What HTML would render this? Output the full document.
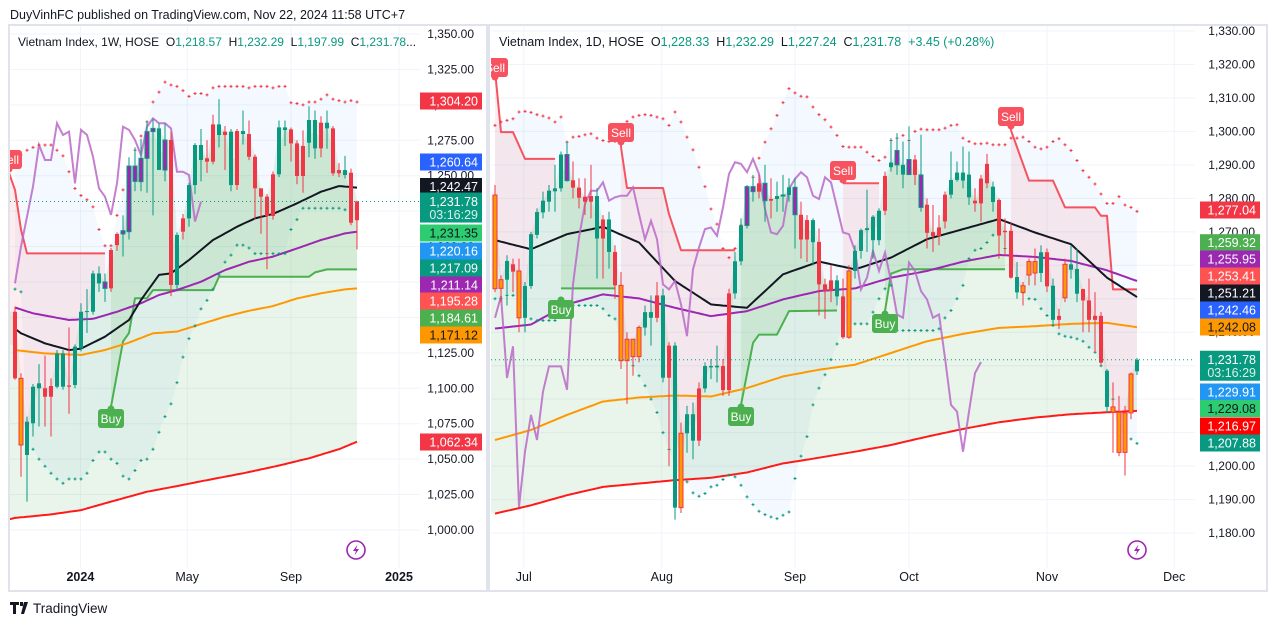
<!DOCTYPE html>
<html><head><meta charset="utf-8"><style>
html,body{margin:0;padding:0;background:#fff;}
body{width:1276px;height:626px;overflow:hidden;font-family:"Liberation Sans",sans-serif;}
svg text{font-family:"Liberation Sans",sans-serif;}
</style></head><body>
<svg id="root" xmlns="http://www.w3.org/2000/svg" width="1276" height="626" viewBox="0 0 1276 626">
<defs>
<clipPath id="clipL"><rect x="10" y="26" width="410" height="536"/></clipPath>
<clipPath id="clipR"><rect x="491" y="26" width="704" height="536"/></clipPath>
</defs>
<rect x="0" y="0" width="1276" height="626" fill="#ffffff"/>
<text x="10" y="19" font-size="12.5" fill="#131722">DuyVinhFC published on TradingView.com, Nov 22, 2024 11:58 UTC+7</text>
<rect x="9" y="25" width="478" height="566" fill="none" stroke="#e0e3eb" stroke-width="2"/>
<rect x="489" y="25" width="778" height="566" fill="none" stroke="#e0e3eb" stroke-width="2"/>
<g id="gL"></g>
<g id="gR"></g>
<g id="gA"></g>
<text x="18" y="46" font-size="12" fill="#131722" xml:space="preserve">Vietnam Index, 1W, HOSE  O<tspan fill="#089981">1,218.57</tspan>  H<tspan fill="#089981">1,232.29</tspan>  L<tspan fill="#089981">1,197.99</tspan>  C<tspan fill="#089981">1,231.78</tspan>...</text>
<text x="499" y="46" font-size="12.5" fill="#131722" xml:space="preserve">Vietnam Index, 1D, HOSE  O<tspan fill="#089981">1,228.33</tspan>  H<tspan fill="#089981">1,232.29</tspan>  L<tspan fill="#089981">1,227.24</tspan>  C<tspan fill="#089981">1,231.78</tspan>  <tspan fill="#089981">+3.45 (+0.28%)</tspan></text>
<g>
<path d="M10 602h9v3h-3v9h-3v-9h-3z M20 602h3v4h-3z M24 602h4l-4 12h-3z" fill="#131722"/>
<text x="33" y="613" font-size="13.5" fill="#131722">TradingView</text>
</g>
</svg>
<script>
// ===== Weekly data =====
const openL=[1154,1107,1052.9,1075.3,1103.5,1100,1094,1101.1,1124.6,1101.1,1102.3,1128.2,1154,1154,1181,1175,1170.5,1201,1208.9,1210.5,1246,1245.8,1262.3,1281.1,1283.4,1254,1275.2,1172.9,1210.5,1219.9,1243.4,1271.7,1262.3,1259.9,1286.2,1278.7,1281.1,1243.4,1281.5,1279.4,1263.4,1241.1,1235.2,1221.6,1251,1284.1,1282.7,1272.8,1249.8,1273.3,1289.3,1269.3,1287.4,1283.4,1251.7,1254,1252.1,1218.57];
const closeL=[1107,1060,1076.4,1101.1,1100,1094,1101.6,1124.6,1101.1,1102,1129.4,1154,1154.5,1181,1174,1170.5,1197.6,1208.9,1211.2,1256.8,1256.8,1262.3,1281.1,1283.4,1254,1275.2,1172.9,1208.2,1219.9,1243.4,1271.7,1261.1,1259.9,1286.2,1278.7,1281.1,1243.4,1281.5,1279.4,1263.4,1241.1,1235.2,1221.6,1251,1284.1,1282.2,1272.8,1249.8,1271,1289.3,1269.3,1287.4,1283.4,1251.7,1254,1250.5,1216.8,1231.78];
const highL=[1157.6,1110.5,1080,1103,1117,1123,1107,1127,1127,1143,1131,1160,1170,1183,1186,1181,1199,1210,1222,1263,1270,1276,1289,1290,1287,1287,1281,1210,1223,1245,1273,1283,1275,1293,1304,1285,1283,1283,1296,1289,1265,1240,1237,1253,1289,1289,1284,1275,1282,1299,1296,1292,1296,1285,1259,1264,1255,1232.29];
const lowL=[1106,1037.6,1020,1066,1073,1073,1066,1100,1099,1082,1100,1126,1139,1152,1168,1161,1168,1197,1193,1205,1239,1239,1238,1222,1254,1246,1165,1170,1205,1214,1237,1246,1252,1258,1270,1254,1239,1240,1272,1261,1219,1209,1184,1219,1249,1271,1260,1244,1238,1263,1262,1263,1269,1250,1249,1248,1215,1197.99];
const styleL="rogggrrggrgggggprrppppppgprgrgggrrgrgrgrrrrrggrrrggrgrrgrrg".split("");
const blackIdxL=[0,1,5,9,11,15,19,21,24,26,29,33,37,40,43,47,51,54,57];
const blackValL=[1142,1138.8,1131.7,1127,1128,1136.4,1148.2,1162.3,1180,1181.1,1190.5,1204.6,1214,1219.9,1223,1230.5,1238.7,1242.7,1241.6];
const purpleIdxL=[0,3,9,13,17,21,24,27,31,35,39,43,47,51,55,57];
const purpleValL=[1157,1152.9,1148.2,1149,1154,1160,1165.8,1169.3,1175.2,1183.4,1189.3,1192.9,1198.7,1204.6,1209.3,1210.5];
const orangeIdxL=[0,5,11,15,19,23,27,31,35,39,43,47,51,55,57];
const orangeValL=[1127,1124.6,1123.5,1127,1132.2,1138.8,1140,1145.3,1150.5,1154.7,1158,1163.4,1167,1169.8,1170.5];
const redIdxL=[-1,0,6,11,16,22,27,33,38,44,49,54,57];
const redValL=[1007.5,1008.5,1011,1014,1020,1027,1031,1036,1040,1045.5,1050.6,1057,1062.3];
const stRedIdxL=[-1,0,1,2,15];
const stRedValL=[1252,1240,1212,1195.2,1195.2];
const stGrnIdxL=[16,18,19,20,22,23,33,34,49,50,52,57];
const stGrnValL=[1087,1133,1139,1163.5,1163.5,1169.3,1169.3,1178.7,1178.7,1181.8,1183.9,1183.9];
const oscL=[1174,1200,1221,1242.3,1271.7,1261.1,1261.1,1287,1278.7,1281.1,1244.6,1282.3,1278.7,1263.4,1241.1,1235.2,1222.3,1244.6,1284.6,1282.3,1275.2,1264.6,1284.6,1290.5,1287,1287,1283.4,1252.8,1252.8,1250.5,1217.6,1231.7];
const psarTopL=[1265,1264.6,1268,1270,1271.7,1271.7,1271.7,1268,1264,1252.8,1241,1236,1233,1228,1212,1200.6,1200.6,1222,1240,1255,1268,1278,1288,1302,1309,1316,1314,1313,1310,1306,1308,1308,1307,1312,1313,1313,1313,1313,1313,1312,1313,1313,1313,1312,1313,1313,1301.5,1301,1300,1302,1302,1304,1307,1304,1303,1302,1303,1302];
const psarBotL=[1170,1168,1060,1057,1050,1045,1040,1036,1033,1036,1036,1036,1040,1049,1055,1055,1050,1047,1038,1036,1042,1049,1050,1057,1069,1080,1089,1104,1122,1135,1144,1156,1162,1170,1180,1189,1194,1201,1201,1199,1195,1195,1195,1195,1195,1195,1212,1219,1227,1227,1227,1227,1227,1227,1227,1226,1226,1226];
const ticksL=[1000,1025,1050,1075,1100,1125,1150,1175,1200,1225,1250,1275,1300,1325,1350];
const timeLabelsL=["2024","May","Sep","2025"];
const timeWeeksL=[10.9,28.7,46,64];

// ===== Daily data =====
const openR=[1281,1255.7,1255.7,1260.3,1258.3,1244.3,1253.8,1269.1,1275.8,1279,1282.1,1283,1293.1,1285.4,1283.2,1280.5,1279,1280.7,1268,1273.7,1264,1254,1237.9,1237.9,1232.7,1241.4,1246,1244.3,1251,1226.4,1236,1187.6,1209.8,1215.5,1207.6,1223.2,1229.5,1230,1229.9,1222.7,1251.6,1261.2,1271.9,1283.5,1282,1284.5,1279.3,1279.8,1280.8,1281,1283.3,1275.1,1267.7,1273.5,1267,1254.3,1252.3,1255.5,1250.7,1238.5,1258.3,1264.3,1270.5,1274.5,1267.5,1276.3,1289.3,1290,1290,1287.1,1291.6,1287,1278.1,1269.9,1268.7,1273.1,1281.1,1285.5,1287.7,1287.1,1279.3,1278.5,1290.3,1283.5,1279.5,1269.9,1270.3,1256.5,1253.9,1257.1,1261.1,1257.7,1263.9,1253.9,1243.7,1250.3,1260.3,1258.9,1252.9,1249.5,1243.7,1244.9,1228.5,1217.7,1216.1,1204.1,1215.9,1228.33];
const closeR=[1253,1253.1,1261.3,1258.1,1244.3,1253.8,1269.3,1275.9,1279.3,1282.3,1283,1293.1,1285.3,1283.2,1280.2,1279,1280.7,1268,1273.7,1264,1254,1231.5,1231.5,1232.7,1241.4,1246,1244.3,1251,1226.4,1236,1187.6,1209.8,1215.5,1207.6,1223.2,1229.9,1229.9,1229.5,1222.7,1251.6,1261.2,1271.9,1283.5,1282,1284.5,1279.3,1279.8,1280.7,1281,1283.3,1275.1,1267.7,1273.5,1266.9,1254.3,1252.3,1255.5,1250.7,1238.5,1258.3,1264.3,1270.5,1271.1,1267.5,1276.3,1286.7,1290.7,1294.3,1287.1,1291.6,1287,1277.3,1269.7,1268.7,1271.3,1281.1,1285.5,1287.7,1285.3,1280.3,1278.5,1285.9,1284.5,1278.9,1268.9,1270.3,1256.3,1251.9,1251.9,1261.1,1257.7,1263.9,1253.7,1243.7,1244.9,1260.3,1258.7,1251.5,1249.5,1243.7,1244.9,1230.9,1217.7,1216.1,1204.1,1215.9,1227.5,1231.78];
const highR=[1284,1257,1263,1262,1262,1255,1270,1277,1282,1284,1290,1294,1297,1291,1286,1286,1290,1283,1275,1276,1266,1258,1240,1238,1242,1248,1251,1255,1253,1237,1237,1213,1218,1219,1225,1231,1232,1236,1232,1253,1264,1274,1284,1287,1287,1290,1286,1285,1287,1286,1286,1279,1275,1274,1271,1256,1260,1257,1256,1260,1266,1271,1282.6,1275,1277,1288,1298,1299.5,1297,1301.5,1293,1299,1280,1278,1275,1282,1294,1291,1295.5,1294,1283,1287,1293.3,1285,1280,1274,1273,1261,1255,1262,1265,1266,1265,1256,1247,1262,1266,1265,1253,1256,1252,1246,1229,1225,1221,1218,1228,1232.29];
const lowR=[1252,1249,1248,1252,1240,1240,1253,1268,1274,1276,1276,1282,1285,1280,1277,1275,1274,1256,1256,1259,1250,1229,1218.6,1227,1231,1239,1236,1243,1225,1200,1184,1186,1204,1202,1206,1222,1226,1225,1221,1221,1250,1260,1271,1279,1280,1273,1274,1276,1276,1279,1265,1262,1261,1260,1245,1244,1249,1248,1238,1238,1256,1262,1264,1262,1266,1275,1288,1287,1283,1287,1284,1276,1265,1264,1266,1271,1280,1285,1283,1278,1276,1273,1283,1276,1262,1263,1256,1250,1248,1254,1254,1255,1252,1242,1241,1249,1256,1249,1240,1240,1234,1230,1216,1204,1203,1197.2,1214,1227.24];
const styleR="oogrogggggggprrrrgrgroooogg rgrgoggrgggrrggpprprgpgprrgrrrgrogggggrgpgprprrrrggggrrrgrrrgooogrgrogg rrrrgoooo ggg".replace(/ /g,"").split("");
const maIdxR=[0,6,12,18,24,30,36,42,48,54,60,66,72,78,84,90,96,102,107];
const blackValR=[1267.5,1264.8,1269.3,1271.5,1266.8,1255.3,1248.3,1247.3,1257.3,1261.1,1258.8,1262.3,1267.8,1270.8,1273.8,1269.8,1266.3,1256.3,1250.5];
const purpleValR=[1241.1,1242.3,1248.3,1251.3,1250.1,1247.3,1244.8,1246.3,1249.8,1252.3,1253.1,1256.3,1258.3,1261.1,1263.1,1262.5,1261.3,1258.5,1255.3];
const orangeValR=[1207.8,1210.8,1215.3,1219.3,1220.5,1221.1,1220.8,1223.3,1226.8,1228.8,1230.3,1233.8,1237.3,1239.5,1241.3,1241.8,1242.5,1242.8,1241.5];
const redValR=[1185.8,1188.3,1191.3,1193.8,1194.8,1195.8,1196.5,1198.1,1200.8,1202.5,1204.3,1206.3,1208.8,1211.1,1213.1,1214.5,1215.5,1216.1,1216.5];
const stRedIdxR=[[0,1,3,5,10],[21,22,28,29,31,40],[58,64],[86,88,89,93,95,100,101,102,103,107]];
const stRedValR=[[1318.3,1299.8,1299.8,1291.8,1291.8],[1295.3,1283.1,1283.1,1275.3,1264.5,1264.5],[1284.5,1284.5],[1300.3,1290.3,1285.3,1285.3,1277.3,1277.3,1274.8,1274.8,1252.8,1252.8]];
const stGrnIdxR=[[11,20],[41,43,44,47,49,57],[65,66,68,85]];
const stGrnValR=[[1253.1,1253.1],[1218.3,1236.8,1239.3,1239.3,1246.3,1246.5],[1246.3,1257.5,1258.8,1258.8]];
const oscR=[1244.3,1250.8,1226.3,1235.8,1187.8,1204.3,1215.3,1207.8,1222.3,1229.8,1229.8,1229.8,1222.8,1254.3,1268.3,1278.3,1282.3,1282.3,1284.8,1279.3,1280.3,1280.8,1280.8,1283.3,1275.3,1267.8,1273.3,1267.8,1254.3,1252.8,1255.3,1248.3,1238.8,1258.8,1265.3,1270.8,1271.3,1268.8,1277.3,1287.3,1290.8,1290.3,1287.8,1291.8,1287.3,1276.8,1269.8,1269.3,1271.8,1282.8,1285.8,1287.8,1286.3,1280.8,1279.8,1286.3,1284.8,1277.3,1269.8,1269.3,1264.3,1252.8,1256.3,1264.3,1258.3,1263.8,1255.3,1245.3,1244.3,1260.8,1258.3,1252.3,1249.8,1244.3,1245.3,1232.3,1218.3,1216.3,1204.3,1216.3,1227.8,1231.1];
const psarTopR=[1301.8,1302.8,1303.3,1303.8,1305.8,1306,1305.7,1305,1304.6,1304,1302.8,1304.3,1296.8,1298.3,1298.5,1299,1299.3,1298,1297.3,1297,1297,1297,1303,1304.3,1304.8,1305,1304.8,1304.3,1303.8,1301.8,1305.8,1302.8,1298.3,1294.5,1289.3,1283.5,1276.8,1272.3,1265,1262.3,1265,1272,1280,1286.3,1292,1296.8,1300.8,1304.8,1308.6,1312.8,1311.5,1310.5,1310.3,1307.3,1305,1303.5,1301.3,1298.8,1295.5,1295.3,1295.3,1295.3,1293.8,1292.5,1291.3,1292.3,1297.3,1298,1298.8,1297.3,1300,1300.7,1300.5,1300.5,1300.5,1301,1301.8,1302,1298,1297,1296.3,1296.3,1296.5,1296,1296,1296,1298,1298,1298.3,1297,1295.3,1294.8,1295.3,1297,1297.8,1296,1294.3,1291.3,1288.3,1286.3,1284.3,1281.3,1278.5,1278.5,1280.5,1278,1277.3,1276.1];
const psarBotR=[1250,1250,1251,1251,1250,1245,1244,1243.5,1243.5,1243.5,1243.5,1247,1248,1248,1248,1248,1248,1248,1247,1245,1244,1237,1232,1230,1227,1224,1220,1216,1210,1205,1200,1197,1195.3,1192,1191,1191.8,1193.8,1194.3,1196,1197.3,1196.8,1194.3,1190.8,1188.5,1186.5,1185.5,1184.8,1184.3,1185.3,1186.3,1196.3,1203,1208.8,1218.3,1223.3,1227.3,1231.8,1236.5,1242.5,1242.5,1242.5,1242.5,1242.5,1246,1250,1253,1254,1240.5,1240.5,1240.5,1240.5,1240.5,1240.5,1240.5,1241,1244.3,1246.5,1250,1254,1262,1264.5,1265,1266.8,1269,1270,1265,1260,1255,1251.8,1250,1249.8,1247,1245,1242,1239.5,1238.8,1238.5,1238,1237.3,1235.5,1234,1230,1225,1220,1215,1212,1208.1,1206.8];
const ticksR=[1180,1190,1200,1210,1220,1230,1240,1250,1260,1270,1280,1290,1300,1310,1320,1330];
const timeLabelsR=["Jul","Aug","Sep","Oct","Nov","Dec"];
const timeDaysR=[4.8,27.8,50,69,92,113.2];

const tagTextL=["1,304.20","1,260.64","1,242.47","1,231.35","1,220.16","1,217.09","1,211.14","1,195.28","1,184.61","1,171.12","1,062.34"];
const tagColL=["#f23645","#2962ff","#131722","#2ecc71","#2196f3","#089981","#9c27b0","#ff5252","#4caf50","#ff9800","#f23645"];
const tagYL=[101,162,186.5,233,251,268,285,301,318,335,442];
const tagTextR=["1,277.04","1,259.32","1,255.95","1,253.41","1,251.21","1,242.46","1,242.08","1,229.91","1,229.08","1,216.97","1,207.88"];
const tagColR=["#f23645","#4caf50","#9c27b0","#ff5252","#131722","#2962ff","#ff9800","#2196f3","#2ecc71","#ff0000","#089981"];
const tagYR=[210,242.7,259,276,293,310,327,392,408.5,426,443];

// ===== scales =====
const xL=i=>15+6*i, yL=p=>34+(1350-p)*1.4171;
const xR=i=>495+6*i, yR=p=>31+(1330-p)*3.347;
const NS="http://www.w3.org/2000/svg";
function mk(tag,attrs,parent){const e=document.createElementNS(NS,tag);for(const k in attrs)e.setAttribute(k,attrs[k]);parent.appendChild(e);return e;}
function interp(ix,vals,i){if(i<=ix[0])return vals[0];for(let k=1;k<ix.length;k++){if(i<=ix[k]){const t=(i-ix[k-1])/(ix[k]-ix[k-1]);return vals[k-1]+t*(vals[k]-vals[k-1]);}}return vals[vals.length-1];}
function pathFrom(pts){return pts.map((p,k)=>(k?"L":"M")+p[0].toFixed(1)+" "+p[1].toFixed(1)).join(" ");}

function buildChart(g,cfg){
  const root=mk("g",{"clip-path":cfg.clip},g);
  const grid=mk("g",{},g);
  
  
  cfg.ticks.forEach(t=>{const y=cfg.y(t);mk("line",{x1:cfg.x0,x2:cfg.x1,y1:y,y2:y,stroke:"#f0f3fa","stroke-width":1},grid);});
  cfg.timePos.forEach(i=>{const x=cfg.x(i);mk("line",{x1:x,x2:x,y1:26,y2:568,stroke:"#f0f3fa","stroke-width":1},grid);});
  g.insertBefore(grid,root);
  const n=cfg.close.length;
  const top=[],bot=[];
  for(let i=0;i<n;i++){top.push([cfg.x(i),cfg.y(cfg.pTop[i])]);bot.push([cfg.x(i),cfg.y(cfg.pBot[i])]);}
  const cloud=mk("path",{d:pathFrom(top.concat(bot.reverse()))+"Z",fill:"rgba(33,150,243,0.055)"},root);
  
  
  const up=[],dn=[];
  for(let i=0;i<n;i++){up.push([cfg.x(i),cfg.y(Math.max(cfg.open[i],cfg.close[i]))]);dn.push([cfg.x(i),cfg.y(interp(cfg.redIdx,cfg.redVal,i))]);}
  up.unshift([cfg.x(-1),up[0][1]]);dn.unshift([cfg.x(-1),cfg.y(interp(cfg.redIdx,cfg.redVal,-1))]);
  const zone=mk("path",{d:pathFrom(up.concat(dn.reverse()))+"Z",fill:"rgba(76,175,80,0.12)"},root);
  
  
  function stSeg(ix,vals,col,fillCol,nm){
    const a=ix[0],b=ix[ix.length-1];const line=[],cl=[];
    for(let i=a;i<=b;i++){line.push([cfg.x(i),cfg.y(interp(ix,vals,i))]);const ci=Math.max(0,Math.min(n-1,i));cl.push([cfg.x(i),cfg.y((cfg.open[ci]+cfg.close[ci])/2)]);}
    const f=mk("path",{d:pathFrom(line.concat(cl.slice().reverse()))+"Z",fill:fillCol},root);
    
    
    const pts=ix.map((i,k)=>[cfg.x(i),cfg.y(vals[k])]);
    const l=mk("path",{d:pathFrom(pts),fill:"none",stroke:col,"stroke-width":2,"stroke-linejoin":"round"},root);
    
    
  }
  cfg.stRed.forEach(s=>stSeg(s[0],s[1],"#f7525f","rgba(242,54,69,0.09)","supertrend-down"));
  cfg.stGrn.forEach(s=>stSeg(s[0],s[1],"#4caf50","rgba(76,175,80,0.13)","supertrend-up"));
  function ma(ix,vals,col,w,nm){const pts=[];const a=ix[0],b=ix[ix.length-1];for(let i=a;i<=b;i+=0.5)pts.push([cfg.x(i),cfg.y(interp(ix,vals,i))]);
    const l=mk("path",{d:pathFrom(pts),fill:"none",stroke:col,"stroke-width":w,"stroke-linejoin":"round"},root);
    
    }
  ma(cfg.redIdx,cfg.redVal,"#ff1a1a",2,"ma-200-line");
  ma(cfg.orIdx,cfg.orVal,"#ff9800",2,"ma-100-line");
  ma(cfg.puIdx,cfg.puVal,"#9c27b0",2,"ma-50-line");
  ma(cfg.blIdx,cfg.blVal,"#131722",2,"ma-20-line");
  const op=cfg.osc.map((v,i)=>[cfg.x(i),cfg.y(v)]);
  const osl=mk("path",{d:pathFrom(op),fill:"none",stroke:"#ba68c8","stroke-width":2,opacity:0.85},root);
  
  
  const dots=mk("g",{},root);
  
  
  for(let i=0;i<n;i++){
    [[cfg.pTop[i],"#f23645"],[cfg.pBot[i],"#089981"]].forEach(([v,c])=>{const x=cfg.x(i),y=cfg.y(v);
      mk("path",{d:`M${x-1.5} ${y}h3M${x} ${y-1.5}v3`,stroke:c,"stroke-width":1},dots);});
  }
  const cg=mk("g",{},root);
  
  
  for(let i=0;i<n;i++){
    const s=cfg.style[i]||(cfg.close[i]>=cfg.open[i]?"g":"r");
    const fill={g:"#089981",r:"#f23645",o:"#ff9800",p:"#9c27b0"}[s];
    const stroke={g:"#089981",r:"#f23645",o:"#f23645",p:"#089981"}[s];
    const x=cfg.x(i);
    const c=mk("g",{},cg);
    
    
    mk("line",{x1:x,x2:x,y1:cfg.y(cfg.high[i]),y2:cfg.y(cfg.low[i]),stroke:stroke,"stroke-width":1},c);
    const y1=cfg.y(Math.max(cfg.open[i],cfg.close[i])),y2=cfg.y(Math.min(cfg.open[i],cfg.close[i]));
    mk("rect",{x:x-2,y:y1,width:4,height:Math.max(1,y2-y1),fill:fill,stroke:stroke,"stroke-width":(s==="o"||s==="p")?1:0},c);
  }
  const lp=cfg.y(cfg.close[n-1]);
  const dl=mk("line",{x1:cfg.x0,x2:cfg.x1,y1:lp,y2:lp,stroke:"#089981","stroke-width":1,"stroke-dasharray":"1 3"},g);
  
  
  return root;
}
function signal(root,x,stemY,boxY,text,col){
  const g=mk("g",{},root);
  
  
  const w=26,h=19;
  mk("line",{x1:x,x2:x,y1:stemY,y2:boxY<stemY?boxY+h:boxY,stroke:col,"stroke-width":2},g);
  mk("circle",{cx:x,cy:boxY<stemY?boxY+h:boxY,r:3.5,fill:col},g);
  mk("rect",{x:x-w/2,y:boxY,width:w,height:h,rx:3,fill:col},g);
  const t=mk("text",{x:x,y:boxY+14,"font-size":12,fill:"#fff","text-anchor":"middle"},g);t.textContent=text;
}
const gL=document.getElementById("gL");
const rootL=buildChart(gL,{clip:"url(#clipL)",x:xL,y:yL,x0:10,x1:420,ticks:ticksL,timePos:timeWeeksL,
 open:openL,close:closeL,high:highL,low:lowL,style:styleL,pTop:psarTopL,pBot:psarBotL,
 redIdx:redIdxL,redVal:redValL,orIdx:orangeIdxL,orVal:orangeValL,puIdx:purpleIdxL,puVal:purpleValL,blIdx:blackIdxL,blVal:blackValL,
 stRed:[[stRedIdxL,stRedValL]],stGrn:[[stGrnIdxL,stGrnValL]],osc:oscL});
signal(rootL,xL(16),yL(1088),409,"Buy","#4caf50");
signal(rootL,xL(-1),yL(1262),150,"Sell","#f7525f");
const gR=document.getElementById("gR");
const rootR=buildChart(gR,{clip:"url(#clipR)",x:xR,y:yR,x0:491,x1:1195,ticks:ticksR,timePos:timeDaysR,
 open:openR,close:closeR,high:highR,low:lowR,style:styleR,pTop:psarTopR,pBot:psarBotR,
 redIdx:maIdxR,redVal:redValR,orIdx:maIdxR,orVal:orangeValR,puIdx:maIdxR,puVal:purpleValR,blIdx:maIdxR,blVal:blackValR,
 stRed:stRedIdxR.map((a,k)=>[a,stRedValR[k]]),stGrn:stGrnIdxR.map((a,k)=>[a,stGrnValR[k]]),osc:oscR});
signal(rootR,xR(0),yR(1318.3),58,"Sell","#f7525f");
signal(rootR,xR(21),yR(1295.3),123,"Sell","#f7525f");
signal(rootR,xR(58),yR(1284.5),161,"Sell","#f7525f");
signal(rootR,xR(86),yR(1300.3),107,"Sell","#f7525f");
signal(rootR,xR(11),yR(1250.5),300,"Buy","#4caf50");
signal(rootR,xR(41),yR(1218.3),407,"Buy","#4caf50");
signal(rootR,xR(65),yR(1246.3),314,"Buy","#4caf50");
const gA=document.getElementById("gA");
function axis(ticks,yf,xr,tagT,tagC,tagY,tx0,tx1,lastY,timeLbl,timePos,xf,bold){
  ticks.forEach(t=>{const y=yf(t);const e=mk("text",{x:xr,y:y+4,"font-size":12,fill:"#131722","text-anchor":"end"},gA);
    
    
    e.textContent=t.toLocaleString("en-US",{minimumFractionDigits:2,maximumFractionDigits:2});});
  tagT.forEach((t,k)=>{const g=mk("g",{},gA);
    
    
    mk("rect",{x:tx0,y:tagY[k]-8.5,width:tx1-tx0,height:17,fill:tagC[k]},g);
    const dark=(tagC[k]==="#ff9800"||tagC[k]==="#2ecc71");
    const e=mk("text",{x:tx1-4,y:tagY[k]+4.5,"font-size":12.5,fill:dark?"#131722":"#fff","text-anchor":"end"},g);e.textContent=t;});
  const g=mk("g",{},gA);
  
  
  mk("rect",{x:tx0,y:lastY-9,width:tx1-tx0,height:30,fill:"#089981"},g);
  const a=mk("text",{x:tx1-4,y:lastY+4.5,"font-size":12.5,fill:"#fff","text-anchor":"end"},g);a.textContent="1,231.78";
  const b=mk("text",{x:tx1-4,y:lastY+17.5,"font-size":12.5,fill:"#d8f0ea","text-anchor":"end"},g);b.textContent="03:16:29";
  timeLbl.forEach((t,k)=>{const e=mk("text",{x:xf(timePos[k]),y:581,"font-size":12.5,fill:"#131722","text-anchor":"middle","font-weight":bold.includes(t)?"bold":"normal"},gA);
    
    
    e.textContent=t;});
}
axis(ticksL,yL,474,tagTextL,tagColL,tagYL,420,482,yL(1231.78),timeLabelsL,timeWeeksL,xL,["2024","2025"]);
axis(ticksR,yR,1255,tagTextR,tagColR,tagYR,1200,1260,yR(1231.78),timeLabelsR,timeDaysR,xR,[]);
function bolt(cx,cy){const g=mk("g",{},gA);
  
  
  mk("circle",{cx:cx,cy:cy,r:9,fill:"#fff",stroke:"#9c27b0","stroke-width":1.6},g);
  mk("path",{d:`M${cx+1.5} ${cy-5.5}L${cx-3} ${cy+1}h3l-1.5 4.5L${cx+3} ${cy-1}h-3z`,fill:"#9c27b0"},g);}
bolt(356,550);bolt(1137,550);
</script>
</body></html>
